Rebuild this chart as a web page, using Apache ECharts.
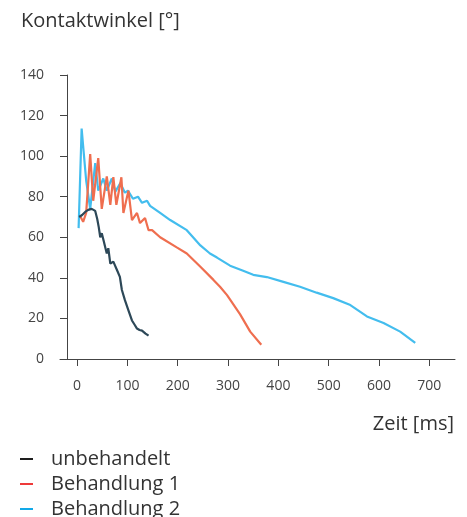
<!DOCTYPE html>
<html><head><meta charset="utf-8">
<script src="https://cdn.jsdelivr.net/npm/echarts@6/dist/echarts.min.js"></script>
<style>html,body{margin:0;padding:0;background:#fff}#c{width:467px;height:517px}</style>
</head><body><div id="c"></div>
<script>
const seriesNames = ['unbehandelt', 'Behandlung 1', 'Behandlung 2'];
const xTicks = [0, 100, 200, 300, 400, 500, 600, 700];
const yTicks = [0, 20, 40, 60, 80, 100, 120, 140];

const untreatedMs  = [4, 10, 16, 22, 29, 36, 40, 43, 46, 49, 53, 56, 59, 62, 66, 72, 79, 85, 89, 95, 102, 109, 114, 119, 124, 129, 136, 142];
const untreatedDeg = [70, 71, 72.5, 73.5, 74, 73, 69, 65, 60, 62, 58, 55, 52, 54.6, 47, 48, 44, 40.5, 34, 29, 24, 19, 17, 15, 14.3, 14, 12.5, 11.5];

const treat1Ms  = [7, 12, 18, 26, 32, 42, 49, 59, 66, 72, 78, 88, 92, 102, 109, 119, 125, 135, 142, 149, 165, 198, 218, 245, 271, 284, 298, 324, 344, 366];
const treat1Deg = [70, 67.6, 72, 101, 78, 99, 74, 90, 76, 89.6, 76, 89.6, 72, 83, 68.5, 72, 67, 69.5, 63.5, 63.5, 60, 55, 52, 45.5, 39, 35.6, 31.5, 22, 13.5, 7];

const treat2Ms  = [3, 9, 12, 18, 26, 36, 42, 52, 59, 69, 76, 86, 95, 101, 111, 121, 129, 139, 145, 165, 185, 218, 245, 264, 278, 304, 330, 350, 377, 410, 443, 476, 509, 543, 576, 609, 642, 672];
const treat2Deg = [64.5, 113.6, 105, 88, 74, 96.5, 83, 89, 83, 89, 82.5, 86.7, 82, 83, 79, 80, 77, 78, 75.5, 72, 68.5, 63.5, 56, 52, 50, 46, 43.5, 41.5, 40.4, 38, 35.6, 32.7, 30, 26.6, 21, 17.7, 13.5, 8];

const lineColors = ['#2d4858', '#ef6e4f', '#43bdee'];
const legendColors = ['#1e1e1e', '#ee3a3a', '#12a9e8'];

function pairs(xs, ys) { return xs.map((x, i) => [x, ys[i]]); }
const dataSets = [pairs(untreatedMs, untreatedDeg), pairs(treat1Ms, treat1Deg), pairs(treat2Ms, treat2Deg)];

const FONT = '"Open Sans", "Noto Sans", sans-serif';
const legendTops = [444, 469, 494];
const chart = echarts.init(document.getElementById('c'), null, {renderer: 'canvas'});
chart.setOption({
  animation: false,
  backgroundColor: '#fff',
  textStyle: {fontFamily: FONT},
  title: [
    {text: 'Kontaktwinkel [°]', left: 16, top: 6,
     textStyle: {fontSize: 20, fontWeight: 'normal', color: '#333', fontFamily: FONT}},
    {text: 'Zeit [ms]', right: 8, top: 409,
     textStyle: {fontSize: 20, fontWeight: 'normal', color: '#333', fontFamily: FONT}}
  ],
  legend: seriesNames.map((n, i) => ({
    orient: 'vertical', left: 15, top: legendTops[i], itemWidth: 13, itemHeight: 2, icon: 'rect',
    textStyle: {fontSize: 20, color: '#333', lineHeight: 20, padding: [0, 0, 0, 13], fontFamily: FONT},
    data: [{name: n, itemStyle: {color: legendColors[i]}, lineStyle: {color: legendColors[i]}}]
  })),
  grid: {left: 60, right: 12, top: 75, bottom: 158, containLabel: false},
  xAxis: {
    type: 'value', min: -34, max: 751,
    splitLine: {show: false},
    axisLine: {show: true, onZero: false, lineStyle: {color: '#444', width: 1}},
    axisTick: {show: true, length: 7, inside: false, customValues: xTicks, lineStyle: {color: '#444'}},
    axisLabel: {customValues: xTicks, margin: 20, fontSize: 14, color: '#444', fontFamily: FONT}
  },
  yAxis: {
    type: 'value', min: 0, max: 140, interval: 20, offset: -7,
    splitLine: {show: false},
    axisLine: {show: true, onZero: false, lineStyle: {color: '#444', width: 1}},
    axisTick: {show: true, length: 7, lineStyle: {color: '#444'}},
    axisLabel: {margin: 23, fontSize: 14, color: '#444', fontFamily: FONT,
                formatter: v => yTicks.includes(v) ? String(v) : ''}
  },
  series: seriesNames.map((n, i) => ({
    name: n, type: 'line', data: dataSets[i], showSymbol: false, symbol: 'none',
    lineStyle: {color: lineColors[i], width: 2.2}, itemStyle: {color: lineColors[i]}, z: 3 - i
  }))
});
</script></body></html>
